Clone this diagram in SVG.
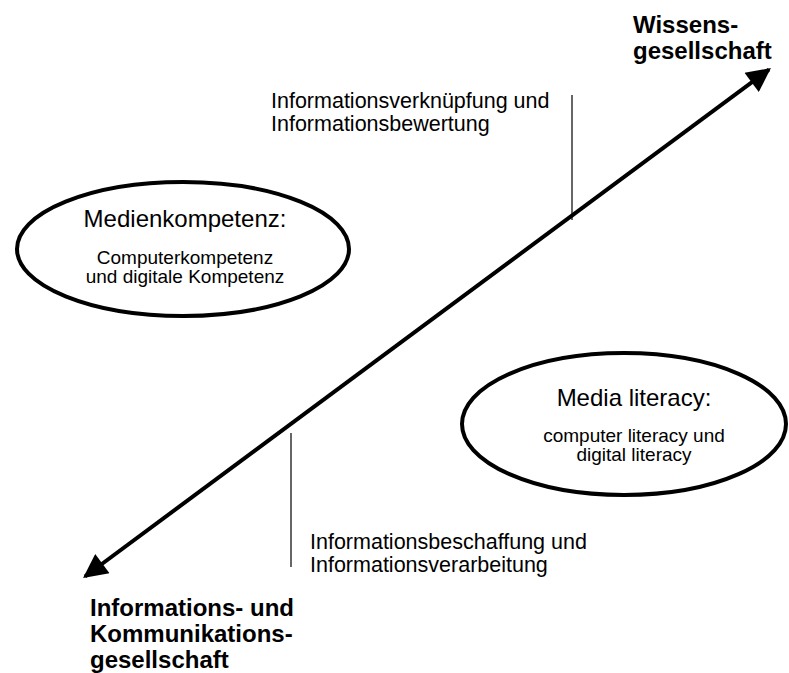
<svg xmlns="http://www.w3.org/2000/svg" width="789" height="673" viewBox="0 0 789 673">
<defs>
<style>
text{font-family:"Liberation Sans",Arial,sans-serif;fill:#000}
.b{font-weight:bold;font-size:24px}
.t{font-size:24px}
.s{font-size:19px}
.l{font-size:21.5px}
.ell{fill:#fff;stroke:#000;stroke-width:4}
.thin{stroke:#000;stroke-width:1.2;fill:none}
</style>
<marker id="ah" viewBox="0 0 10 10" refX="9" refY="5" markerWidth="7" markerHeight="6" markerUnits="strokeWidth" orient="auto-start-reverse">
<path d="M0,0 L10,5 L0,10 z" fill="#000"/>
</marker>
</defs>
<g id="connectors">
<line x1="85" y1="576.5" x2="769" y2="69.5" stroke="#000" stroke-width="4" marker-start="url(#ah)" marker-end="url(#ah)"/>
<line class="thin" x1="572" y1="95" x2="572" y2="220"/>
<line class="thin" x1="291" y1="433" x2="291" y2="567"/>
</g>
<g id="wissensgesellschaft">
<text class="b" x="633" y="33">Wissens-</text>
<text class="b" x="633" y="59">gesellschaft</text>
</g>
<g id="iuk-gesellschaft">
<text class="b" x="90" y="616">Informations- und</text>
<text class="b" x="90" y="642">Kommunikations-</text>
<text class="b" x="90" y="668">gesellschaft</text>
</g>
<g id="medienkompetenz">
<ellipse class="ell" cx="183" cy="249" rx="166" ry="67"/>
<text class="t" x="185" y="227" text-anchor="middle">Medienkompetenz:</text>
<text class="s" x="185" y="264" text-anchor="middle">Computerkompetenz</text>
<text class="s" x="185" y="283" text-anchor="middle">und digitale Kompetenz</text>
</g>
<g id="media-literacy">
<ellipse class="ell" cx="624" cy="424" rx="162" ry="71"/>
<text class="t" x="634" y="406" text-anchor="middle">Media literacy:</text>
<text class="s" x="634" y="442" text-anchor="middle">computer literacy und</text>
<text class="s" x="634" y="461" text-anchor="middle">digital literacy</text>
</g>
<g id="label-top">
<text class="l" x="271" y="108">Informationsverknüpfung und</text>
<text class="l" x="271" y="131">Informationsbewertung</text>
</g>
<g id="label-bottom">
<text class="l" x="310" y="549">Informationsbeschaffung und</text>
<text class="l" x="310" y="572">Informationsverarbeitung</text>
</g>
</svg>
